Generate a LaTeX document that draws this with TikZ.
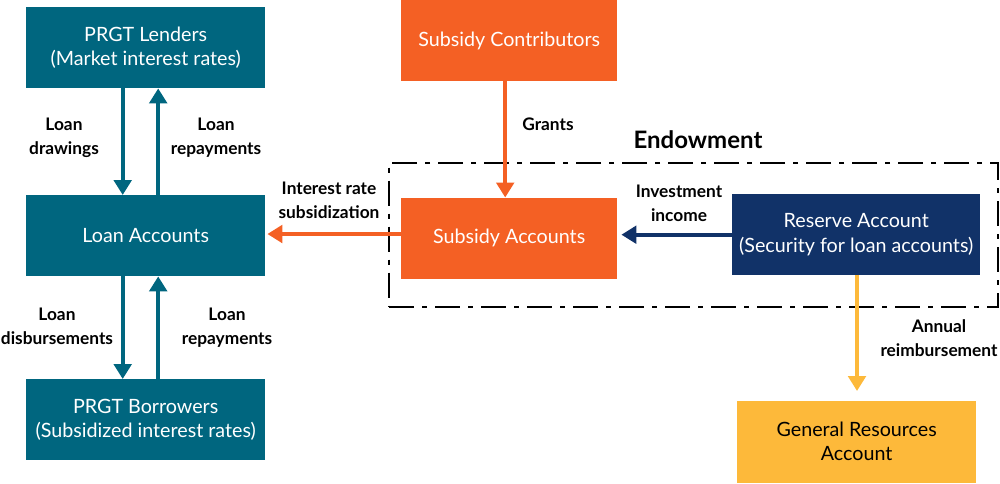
\documentclass[tikz,border=0pt]{standalone}
\usepackage{fontspec}
\setmainfont{Lato}
\usetikzlibrary{arrows.meta}
\definecolor{teal}{HTML}{00667F}
\definecolor{orng}{HTML}{F46024}
\definecolor{navy}{HTML}{113268}
\definecolor{yell}{HTML}{FDB93A}
\tikzset{
  x=1pt,y=-1pt,
  boxn/.style={anchor=north west,inner sep=0pt,text=white,align=center,font=\fontsize{19.7}{24.5}\selectfont},
  lab/.style={align=center,text=black,font=\fontsize{17.3}{24}\selectfont\bfseries},
  conn/.style={line width=4.2pt,-{Triangle[length=15pt,width=17.5pt]}},
}
\begin{document}
\begin{tikzpicture}
\useasboundingbox (0,0) rectangle (1000,483);
\node[draw=black,line width=2.4pt,dash pattern=on 25pt off 8pt on 5pt off 8pt,anchor=north west,minimum width=609pt,minimum height=144pt,inner sep=0pt] (endow) at (388,161.5) {};
\node[boxn,fill=teal,minimum width=239pt,minimum height=81pt] (lenders) at (26,7) {PRGT Lenders\\(Market interest rates)};
\node[boxn,fill=teal,minimum width=239pt,minimum height=81pt] (loan) at (26,195) {Loan Accounts};
\node[boxn,fill=teal,minimum width=239pt,minimum height=81pt] (borrow) at (26,379) {\raisebox{-1pt}{PRGT Borrowers}\\\raisebox{-1pt}{(Subsidized interest rates)}};
\node[boxn,fill=orng,minimum width=216pt,minimum height=81pt] (contrib) at (401,0) {Subsidy Contributors};
\node[boxn,fill=orng,minimum width=216pt,minimum height=81pt] (subsidy) at (401,197.5) {\raisebox{-1pt}{Subsidy Accounts}};
\node[boxn,fill=navy,minimum width=248pt,minimum height=81pt] (reserve) at (732,194) {\raisebox{-1.5pt}{Reserve Account}\\\raisebox{-1.5pt}{(Security for loan accounts)}};
\node[boxn,fill=yell,text=black,minimum width=239pt,minimum height=82pt] (general) at (737,401) {\raisebox{2pt}{General Resources}\\\raisebox{2pt}{Account}};
\draw[conn,teal] ([xshift=-23pt]lenders.south) -- ([xshift=-23pt]loan.north);
\draw[conn,teal] ([xshift=12.5pt]loan.north) -- ([xshift=12.5pt]lenders.south);
\draw[conn,teal] ([xshift=-23pt]loan.south) -- ([xshift=-23pt]borrow.north);
\draw[conn,teal] ([xshift=12.5pt]borrow.north) -- ([xshift=12.5pt]loan.south);
\draw[conn,orng] ([xshift=-4pt]contrib.south) -- ([xshift=-4pt]contrib.south |- subsidy.north);
\coordinate (oy) at (0,234);
\draw[conn,orng] (subsidy.west |- oy) -- ([xshift=2pt]loan.east |- oy);
\draw[conn,navy,line width=3.6pt] (reserve.west) -- ([xshift=4pt]subsidy.east |- reserve.west);
\coordinate (yend) at (857,391);
\draw[conn,yell] (reserve.south -| yend) -- (yend);
\node[lab] (l1) at (64,138) {Loan\\drawings};
\node[lab] (l2) at (216,138) {Loan\\repayments};
\node[lab] (l3) at (329,200) {Interest rate\\subsidization};
\node[lab] (l4) at (57,326.5) {Loan\\disbursements};
\node[lab] (l5) at (227,327.5) {Loan\\repayments};
\node[lab] (l6) at (548,124.5) {Grants};
\node[lab] (l7) at (679,203) {Investment\\income};
\node[lab] (l8) at (939,338) {Annual\\reimbursement};
\node[text=black,font=\fontsize{24}{28}\selectfont\bfseries] (l9) at (698,140) {Endowment};
\end{tikzpicture}
\end{document}
